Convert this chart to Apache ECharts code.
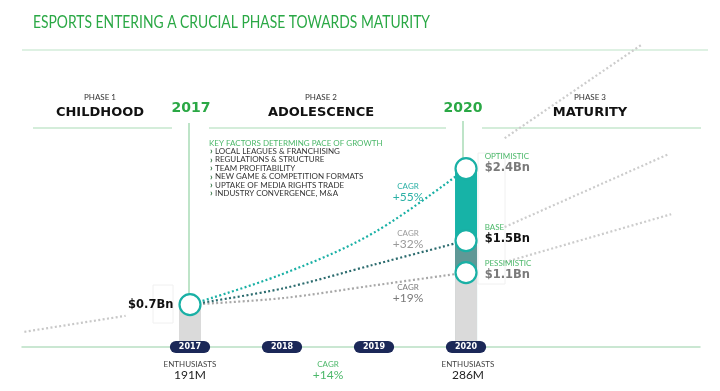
<!DOCTYPE html>
<html><head><meta charset="utf-8">
<script src="https://cdn.jsdelivr.net/npm/echarts@6/dist/echarts.min.js"></script>
<style>html,body{margin:0;padding:0;background:#fff}#c{width:720px;height:391px}</style>
</head><body><div id="c"></div>
<script>
// ---- data ----
const years = [2017, 2018, 2019, 2020];
const optimistic = [0.7, 1.08, 1.6, 2.4];
const base = [0.7, 0.9, 1.2, 1.5];
const pessimistic = [0.7, 0.78, 0.94, 1.1];
const historyYears = [2015.2, 2016.3];
const historyValues = [0.36, 0.56];
const optBeyondYears = [2020.42, 2021.91];
const optBeyondValues = [2.78, 3.95];
const baseBeyondYears = [2020.42, 2022.2];
const baseBeyondValues = [1.67, 2.58];
const pessBeyondYears = [2020.42, 2022.23];
const pessBeyondValues = [1.23, 1.83];
const scenarioNames = ['OPTIMISTIC', 'BASE', 'PESSIMISTIC'];
const cagrLabels = ['+55%', '+32%', '+19%'];
const enthusiasts = ['191M', '286M'];
const enthusiastCagr = '+14%';
const keyFactors = ['LOCAL LEAGUES & FRANCHISING', 'REGULATIONS & STRUCTURE', 'TEAM PROFITABILITY',
  'NEW GAME & COMPETITION FORMATS', 'UPTAKE OF MEDIA RIGHTS TRADE', 'INDUSTRY CONVERGENCE, M&A'];
const phases = [['PHASE 1', 'CHILDHOOD'], ['PHASE 2', 'ADOLESCENCE'], ['PHASE 3', 'MATURITY']];
const title = 'ESPORTS ENTERING A CRUCIAL PHASE TOWARDS MATURITY';

// ---- helpers ----
const pair = (xs, ys) => xs.map((x, i) => [x, ys[i]]);
const fmtBn = v => '$' + v.toFixed(1) + 'Bn';
const TEAL = '#19b0a5', DARKTEAL = '#2b6b6e', GREEN = '#2aa845', LGREEN = '#a9dbb6';
const SANS = 'Lato', BOLD = 'DejaVu Sans';

const mc = document.createElement('canvas').getContext('2d');
mc.font = 'normal 17px ' + SANS;
const titleScale = 397 / mc.measureText(title).width;

const chart = echarts.init(document.getElementById('c'), null, {renderer: 'canvas'});

const dotted = (color) => ({color: color, width: 2.2, type: [2, 2.4], cap: 'butt'});
const lastIdx = years.length - 1;
const smallGreen = {fontFamily: SANS, fontSize: 8, color: '#4cb86a', lineHeight: 11};

const graphic = [];
function txt(x, y, text, style, extra) {
  graphic.push(Object.assign({type: 'text', x: x, y: y, z: 10,
    style: Object.assign({text: text, fontFamily: SANS, fontSize: 8, fill: '#333', align: 'center', verticalAlign: 'middle'}, style)}, extra || {}));
}
function line(x1, y1, x2, y2, color, w) {
  graphic.push({type: 'line', z: 1, shape: {x1: x1, y1: y1, x2: x2, y2: y2}, style: {stroke: color, lineWidth: w || 1.2}});
}
// title
txt(33, 23, title, {fontSize: 17, fill: GREEN, align: 'left'}, {scaleX: titleScale, originX: 0});
line(22, 50, 708, 50, '#bde3c7', 1.2);
// phases
const phaseX = [100, 321, 590];
phases.forEach((p, i) => {
  txt(phaseX[i], 97, p[0], {fontSize: 8, fill: '#333'});
  txt(phaseX[i], 113, p[1], {fontSize: 13, fontFamily: BOLD, fontWeight: 'bold', fill: '#111'});
});
line(33, 128, 172, 128, LGREEN);
line(209, 128, 446, 128, LGREEN);
line(482, 128, 701, 128, LGREEN);
txt(191, 108, String(years[0]), {fontSize: 14, fontFamily: BOLD, fontWeight: 'bold', fill: GREEN});
txt(463, 108, String(years[lastIdx]), {fontSize: 14, fontFamily: BOLD, fontWeight: 'bold', fill: GREEN});
line(189, 123, 189, 294, LGREEN, 1.5);
line(463, 121, 463, 158, LGREEN, 1.5);
// key factors
txt(209, 143, 'KEY FACTORS DETERMING PACE OF GROWTH', {fill: '#4cb86a', align: 'left'});
keyFactors.forEach((k, i) => {
  const y = 151.5 + i * 8.4;
  txt(210, y, '›', {fill: '#2a6b3a', align: 'left', fontWeight: 'bold', fontSize: 9});
  txt(215, y, k, {fill: '#333', align: 'left'});
});
// CAGR labels
const cagrY = [186, 233, 287];
const cagrCol = ['#2ab0a5', '#9a9a9a', '#7a7a7a'];
cagrLabels.forEach((c, i) => {
  txt(408, cagrY[i], 'CAGR', {fill: cagrCol[i]});
  txt(408, cagrY[i] + 11, c, {fill: cagrCol[i], fontSize: 12});
});
// enthusiasts
const enthX = [190, 468];
enthusiasts.forEach((e, i) => {
  txt(enthX[i], 364, 'ENTHUSIASTS', {fill: '#444'});
  txt(enthX[i], 375, e, {fill: '#222', fontSize: 12});
});
txt(328, 364, 'CAGR', {fill: '#4cb86a'});
txt(328, 375, enthusiastCagr, {fill: '#4cb86a', fontSize: 12});
// faint label boxes
graphic.push({type: 'rect', z: 0, shape: {x: 478, y: 153, width: 27, height: 131}, style: {fill: 'none', stroke: '#f0f0f0', lineWidth: 1}});
graphic.push({type: 'rect', z: 0, shape: {x: 153, y: 285, width: 20, height: 38}, style: {fill: 'none', stroke: '#f0f0f0', lineWidth: 1}});

const scenLabel = (name, v, color, dy) => ({
  show: true, position: 'right', distance: 7, offset: [0, dy],
  formatter: '{a|' + name + '}\n{b|' + fmtBn(v) + '}',
  rich: {a: smallGreen, b: {fontFamily: BOLD, fontWeight: 'bold', fontSize: 11.5, color: color, lineHeight: 13}}
});

const option = {
  animation: false,
  backgroundColor: '#fff',
  grid: {left: 22, right: 20, top: 27, bottom: 44},
  xAxis: {
    type: 'value', min: 2015.174, max: 2022.543, z: 10,
    splitLine: {show: false}, axisTick: {show: false},
    axisLine: {lineStyle: {color: '#b9e0c3', width: 1.5}},
    axisLabel: {
      customValues: years, formatter: v => String(v), margin: -6,
      color: '#fff', fontWeight: 'bold', fontSize: 8, fontFamily: BOLD,
      backgroundColor: '#1b2858', borderRadius: 7, padding: [2, 9, 2, 9], lineHeight: 8
    }
  },
  yAxis: {type: 'value', min: 0.17, max: 4.17, show: false},
  graphic: graphic,
  series: [
    {type: 'line', symbol: 'none', z: 2, data: pair(historyYears, historyValues), lineStyle: dotted('#c8c8c8')},
    {type: 'line', symbol: 'none', z: 2, data: pair(optBeyondYears, optBeyondValues), lineStyle: dotted('#cccccc')},
    {type: 'line', symbol: 'none', z: 2, data: pair(baseBeyondYears, baseBeyondValues), lineStyle: dotted('#cccccc')},
    {type: 'line', symbol: 'none', z: 2, data: pair(pessBeyondYears, pessBeyondValues), lineStyle: dotted('#cccccc')},
    {type: 'line', symbol: 'none', z: 2, smooth: 0.3, data: pair(years, pessimistic), lineStyle: dotted('#a8a8a8')},
    {type: 'line', symbol: 'none', z: 2, smooth: 0.3, data: pair(years, base), lineStyle: dotted(DARKTEAL)},
    {type: 'line', symbol: 'none', z: 2, smooth: 0.35, data: pair(years, optimistic), lineStyle: dotted(TEAL)},
    // overlapping columns: tallest first, shorter ones drawn on top
    {type: 'bar', barWidth: 22, barGap: '-100%', z: 3, data: [[years[lastIdx], optimistic[lastIdx]]], itemStyle: {color: '#17b3a7'}},
    {type: 'bar', barWidth: 22, barGap: '-100%', z: 3, data: [[years[lastIdx], base[lastIdx]]], itemStyle: {color: '#5f9896'}},
    {type: 'bar', barWidth: 22, barGap: '-100%', z: 3, data: [[years[0], optimistic[0]], [years[lastIdx], pessimistic[lastIdx]]], itemStyle: {color: '#dadada'}},
    {type: 'scatter', symbol: 'circle', symbolSize: 21, z: 6,
      itemStyle: {color: '#fff', borderColor: TEAL, borderWidth: 2.2, opacity: 1},
      data: [
        {value: [years[0], optimistic[0]], label: {show: true, position: 'left', distance: 5, formatter: fmtBn(optimistic[0]),
          fontFamily: BOLD, fontWeight: 'bold', fontSize: 11.5, color: '#111'}},
        {value: [years[lastIdx], optimistic[lastIdx]], label: scenLabel(scenarioNames[0], optimistic[lastIdx], '#7a7a7a', -6)},
        {value: [years[lastIdx], base[lastIdx]], label: scenLabel(scenarioNames[1], base[lastIdx], '#111', -7)},
        {value: [years[lastIdx], pessimistic[lastIdx]], label: scenLabel(scenarioNames[2], pessimistic[lastIdx], '#7a7a7a', -3)}
      ]}
  ]
};
chart.setOption(option);
</script></body></html>
